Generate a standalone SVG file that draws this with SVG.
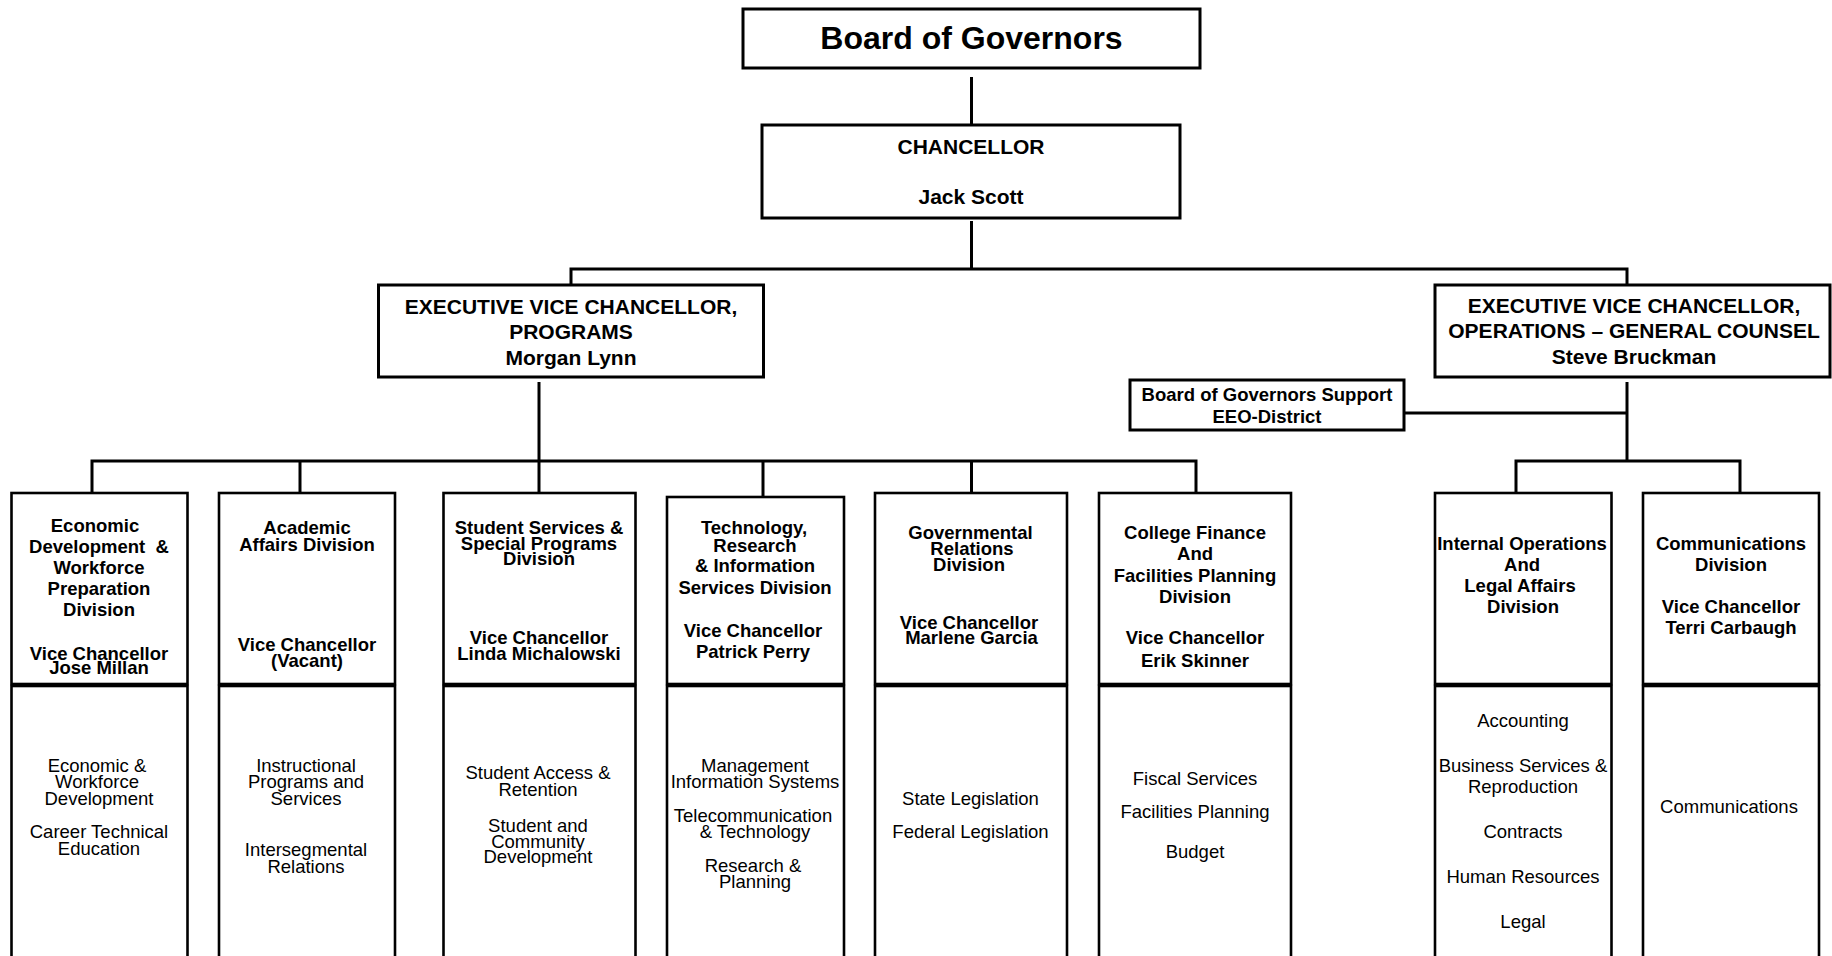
<svg xmlns="http://www.w3.org/2000/svg" width="1832" height="956" viewBox="0 0 1832 956">
<style>
.box{fill:#fff;stroke:#000;stroke-width:3}
.dbox{fill:#fff;stroke:#000;stroke-width:2.6}
.ln{stroke:#000;stroke-width:3;fill:none}
text{font-family:"Liberation Sans",Arial,sans-serif;text-anchor:middle;fill:#000;white-space:pre}
.b{font-weight:bold}
.h{font-weight:bold;font-size:18.5px}
.l{font-size:18.5px}
.t{font-weight:bold;font-size:21px}
</style>
<rect width="1832" height="956" fill="#fff"/>
<g id="connectors">
<line class="ln" x1="971.5" y1="77" x2="971.5" y2="124"/>
<line class="ln" x1="971.5" y1="221" x2="971.5" y2="269"/>
<polyline class="ln" points="571,285 571,269 1627,269 1627,285"/>
<line class="ln" x1="539" y1="382" x2="539" y2="493"/>
<polyline class="ln" points="92,493 92,461 1196,461 1196,493"/>
<line class="ln" x1="300" y1="461" x2="300" y2="493"/>
<line class="ln" x1="763" y1="461" x2="763" y2="496"/>
<line class="ln" x1="971.5" y1="461" x2="971.5" y2="493"/>
<line class="ln" x1="1627" y1="382" x2="1627" y2="461"/>
<line class="ln" x1="1404" y1="413" x2="1627" y2="413"/>
<polyline class="ln" points="1516,493 1516,461 1740,461 1740,493"/>
</g>
<g id="board">
<rect class="box" x="743" y="9" width="457" height="59"/>
<text class="b" x="971.5" y="49" font-size="32">Board of Governors</text>
</g>
<g id="chancellor">
<rect class="box" x="762" y="125" width="418" height="93"/>
<text class="t" x="971" y="154">CHANCELLOR</text>
<text class="t" x="971" y="204">Jack Scott</text>
</g>
<g id="evc-programs">
<rect class="box" x="378.5" y="285" width="385" height="92"/>
<text class="t" x="571" y="314">EXECUTIVE VICE CHANCELLOR,</text>
<text class="t" x="571" y="339">PROGRAMS</text>
<text class="t" x="571" y="365">Morgan Lynn</text>
</g>
<g id="evc-operations">
<rect class="box" x="1435" y="285" width="395" height="92"/>
<text class="t" x="1634" y="313">EXECUTIVE VICE CHANCELLOR,</text>
<text class="t" x="1634" y="338">OPERATIONS – GENERAL COUNSEL</text>
<text class="t" x="1634" y="364">Steve Bruckman</text>
</g>
<g id="bog-support">
<rect class="box" x="1130" y="380" width="274" height="50"/>
<text class="h" x="1267" y="401">Board of Governors Support</text>
<text class="h" x="1267" y="423">EEO-District</text>
</g>
<g id="div-economic">
<rect class="dbox" x="11.5" y="493" width="176" height="191"/>
<rect class="dbox" x="11.5" y="686" width="176" height="274"/>
<text class="h" x="95" y="532">Economic</text>
<text class="h" x="99" y="553">Development  &amp;</text>
<text class="h" x="99" y="574">Workforce</text>
<text class="h" x="99" y="595">Preparation</text>
<text class="h" x="99" y="616">Division</text>
<text class="h" x="99" y="660">Vice Chancellor</text>
<text class="h" x="99" y="674">Jose Millan</text>
<text class="l" x="97" y="772">Economic &amp;</text>
<text class="l" x="97" y="788">Workforce</text>
<text class="l" x="99" y="805">Development</text>
<text class="l" x="99" y="838">Career Technical</text>
<text class="l" x="99" y="855">Education</text>
</g>
<g id="div-academic">
<rect class="dbox" x="219" y="493" width="176" height="191"/>
<rect class="dbox" x="219" y="686" width="176" height="274"/>
<text class="h" x="307" y="534">Academic</text>
<text class="h" x="307" y="551">Affairs Division</text>
<text class="h" x="307" y="651">Vice Chancellor</text>
<text class="h" x="307" y="667">(Vacant)</text>
<text class="l" x="306" y="772">Instructional</text>
<text class="l" x="306" y="788">Programs and</text>
<text class="l" x="306" y="805">Services</text>
<text class="l" x="306" y="856">Intersegmental</text>
<text class="l" x="306" y="873">Relations</text>
</g>
<g id="div-student">
<rect class="dbox" x="443.5" y="493" width="192" height="191"/>
<rect class="dbox" x="443.5" y="686" width="192" height="274"/>
<text class="h" x="539" y="534">Student Services &amp;</text>
<text class="h" x="539" y="550">Special Programs</text>
<text class="h" x="539" y="565">Division</text>
<text class="h" x="539" y="644">Vice Chancellor</text>
<text class="h" x="539" y="660">Linda Michalowski</text>
<text class="l" x="538" y="779">Student Access &amp;</text>
<text class="l" x="538" y="796">Retention</text>
<text class="l" x="538" y="832">Student and</text>
<text class="l" x="538" y="848">Community</text>
<text class="l" x="538" y="863">Development</text>
</g>
<g id="div-technology">
<rect class="dbox" x="667" y="497" width="177" height="187"/>
<rect class="dbox" x="667" y="686" width="177" height="274"/>
<text class="h" x="754" y="534">Technology,</text>
<text class="h" x="755" y="552">Research</text>
<text class="h" x="755" y="572">&amp; Information</text>
<text class="h" x="755" y="594">Services Division</text>
<text class="h" x="753" y="637">Vice Chancellor</text>
<text class="h" x="753" y="658">Patrick Perry</text>
<text class="l" x="755" y="772">Management</text>
<text class="l" x="755" y="788">Information Systems</text>
<text class="l" x="753" y="822">Telecommunication</text>
<text class="l" x="755" y="838">&amp; Technology</text>
<text class="l" x="753" y="872">Research &amp;</text>
<text class="l" x="755" y="888">Planning</text>
</g>
<g id="div-governmental">
<rect class="dbox" x="875" y="493" width="192" height="191"/>
<rect class="dbox" x="875" y="686" width="192" height="274"/>
<text class="h" x="970.5" y="539">Governmental</text>
<text class="h" x="972" y="555">Relations</text>
<text class="h" x="969" y="571">Division</text>
<text class="h" x="969" y="629">Vice Chancellor</text>
<text class="h" x="971.5" y="644">Marlene Garcia</text>
<text class="l" x="970.5" y="805">State Legislation</text>
<text class="l" x="970.5" y="838">Federal Legislation</text>
</g>
<g id="div-finance">
<rect class="dbox" x="1099" y="493" width="192" height="191"/>
<rect class="dbox" x="1099" y="686" width="192" height="274"/>
<text class="h" x="1195" y="539">College Finance</text>
<text class="h" x="1195" y="560">And</text>
<text class="h" x="1195" y="582">Facilities Planning</text>
<text class="h" x="1195" y="603">Division</text>
<text class="h" x="1195" y="644">Vice Chancellor</text>
<text class="h" x="1195" y="667">Erik Skinner</text>
<text class="l" x="1195" y="785">Fiscal Services</text>
<text class="l" x="1195" y="818">Facilities Planning</text>
<text class="l" x="1195" y="858">Budget</text>
</g>
<g id="div-internal">
<rect class="dbox" x="1435" y="493" width="176.5" height="191"/>
<rect class="dbox" x="1435" y="686" width="176.5" height="274"/>
<text class="h" x="1522" y="550">Internal Operations</text>
<text class="h" x="1522" y="571">And</text>
<text class="h" x="1520" y="592">Legal Affairs</text>
<text class="h" x="1523" y="613">Division</text>
<text class="l" x="1523" y="727">Accounting</text>
<text class="l" x="1523" y="772">Business Services &amp;</text>
<text class="l" x="1523" y="793">Reproduction</text>
<text class="l" x="1523" y="838">Contracts</text>
<text class="l" x="1523" y="883">Human Resources</text>
<text class="l" x="1523" y="928">Legal</text>
</g>
<g id="div-communications">
<rect class="dbox" x="1643" y="493" width="176" height="191"/>
<rect class="dbox" x="1643" y="686" width="176" height="274"/>
<text class="h" x="1731" y="550">Communications</text>
<text class="h" x="1731" y="571">Division</text>
<text class="h" x="1731" y="613">Vice Chancellor</text>
<text class="h" x="1731" y="634">Terri Carbaugh</text>
<text class="l" x="1729" y="813">Communications</text>
</g>
</svg>
